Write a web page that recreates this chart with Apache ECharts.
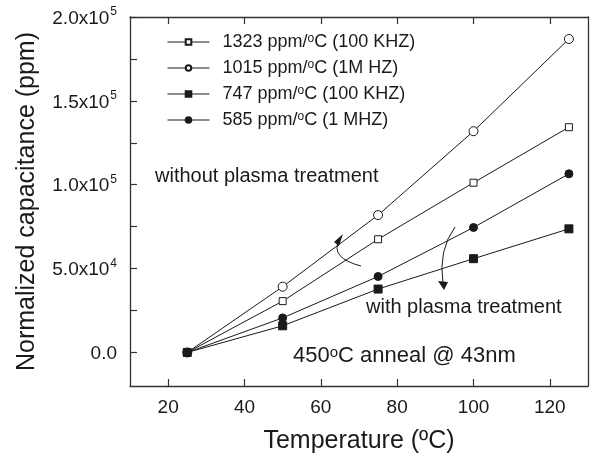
<!DOCTYPE html>
<html><head><meta charset="utf-8">
<script src="https://cdn.jsdelivr.net/npm/echarts@6/dist/echarts.min.js"></script>
<style>html,body{margin:0;padding:0;background:#fff}#c{width:592px;height:459px}</style>
</head><body><div id="c"></div>
<script>
const temps = [25, 50, 75, 100, 125];
const s1323 = [0, 30600, 67500, 101200, 134300];
const s1015 = [0, 39200, 81900, 131900, 186900];
const s747 = [0, 15900, 37800, 55900, 73700];
const s585 = [0, 20600, 45300, 74500, 106500];
const seriesNames = ['1323 ppm/°C (100 KHZ)', '1015 ppm/°C (1M HZ)', '747 ppm/°C (100 KHZ)', '585 ppm/°C (1 MHZ)'];
const xTicks = [20, 40, 60, 80, 100, 120];
const yLabels = [0, 50000, 100000, 150000, 200000];
const yTicks = [0, 25000, 50000, 75000, 100000, 125000, 150000, 175000, 200000];

const FONT = 'Liberation Sans, Arial, sans-serif';
const INK = '#1a1a1a';
const sup = {fontSize: 12, verticalAlign: 'top', lineHeight: 14, fontFamily: FONT, color: INK, padding:[0,0,0,1]};

function pairs(ys){ return temps.map((t,i)=>[t, ys[i]]); }
function yFmt(v){
  if (v === 0) return '{n|0.0}';
  const e = Math.floor(Math.log10(v));
  const m = (v / Math.pow(10, e)).toFixed(1);
  return '{n|' + m + 'x10}{s|' + e + '}';
}
const mk = [
  {name: seriesNames[0], data: s1323, symbol: 'rect', size: 7, fill: '#fff'},
  {name: seriesNames[1], data: s1015, symbol: 'circle', size: 9, fill: '#fff'},
  {name: seriesNames[2], data: s747, symbol: 'rect', size: 8, fill: INK},
  {name: seriesNames[3], data: s585, symbol: 'circle', size: 8, fill: INK}
];
const chart = echarts.init(document.getElementById('c'), null, {renderer: 'canvas'});
const axisLine = {show: true, onZero: false, lineStyle: {color: '#333', width: 1.3}};
chart.setOption({
  animation: false,
  backgroundColor: '#fff',
  textStyle: {fontFamily: FONT},
  grid: {left: 130, right: 4, top: 17, bottom: 69},
  legend: {
    orient: 'vertical', left: 162, top: 28, itemGap: 8, itemWidth: 42, itemHeight: 7,
    data: seriesNames,
    lineStyle: {width: 1},
    formatter: n => n.replace(/^(.*?)°(.*)$/, '{t|$1}{s|o}{t|$2}'),
    textStyle: {fontSize: 18, color: INK, fontFamily: FONT, lineHeight: 18, padding: [0,0,0,8],
      rich: {t: {fontSize: 18, color: INK, fontFamily: FONT, lineHeight: 18}, s: {fontSize: 12, color: INK, fontFamily: FONT, verticalAlign: 'top', lineHeight: 11}}}
  },
  xAxis: [{
    type: 'value', min: 10, max: 130, position: 'bottom',
    name: 'Temperature (ºC)', nameLocation: 'middle', nameGap: 43,
    nameTextStyle: {fontSize: 25, color: INK, fontFamily: FONT},
    axisLine: axisLine,
    axisTick: {show: true, inside: true, length: 7, customValues: xTicks, lineStyle: {color: '#333', width: 1.2}},
    axisLabel: {customValues: xTicks, fontSize: 19, color: INK, fontFamily: FONT, margin: 12},
    splitLine: {show: false}
  }, {
    type: 'value', min: 10, max: 130, position: 'top',
    axisLine: axisLine,
    axisTick: {show: true, inside: true, length: 7, customValues: xTicks, lineStyle: {color: '#333', width: 1.2}},
    axisLabel: {show: false}, splitLine: {show: false}
  }],
  yAxis: [{
    type: 'value', min: -20000, max: 200000, position: 'left',
    name: 'Normalized capacitance (ppm)', nameLocation: 'middle', nameGap: 90,
    nameTextStyle: {fontSize: 25, color: INK, fontFamily: FONT},
    axisLine: axisLine,
    axisTick: {show: true, inside: true, length: 7, customValues: yTicks, lineStyle: {color: '#333', width: 1.2}},
    axisLabel: {customValues: yLabels, formatter: yFmt, margin: 13,
      rich: {n: {fontSize: 19, color: INK, fontFamily: FONT, lineHeight: 22, padding: [3,0,0,0]}, s: sup}},
    splitLine: {show: false}
  }, {
    type: 'value', min: -20000, max: 200000, position: 'right',
    axisLine: axisLine, axisTick: {show: false}, axisLabel: {show: false}, splitLine: {show: false}
  }],
  series: mk.map(m => ({
    name: m.name, type: 'line', data: pairs(m.data),
    symbol: m.symbol, symbolSize: m.size, showSymbol: true,
    lineStyle: {color: INK, width: 1},
    itemStyle: {color: m.fill, borderColor: INK, borderWidth: 1},
    z: 3
  })),
  graphic: [
    {type: 'text', left: 155, top: 166, style: {text: 'without plasma treatment', font: '20px ' + FONT, fill: INK}},
    {type: 'text', left: 366, top: 297, style: {text: 'with plasma treatment', font: '20px ' + FONT, fill: INK}},
    {type: 'text', left: 293, top: 345, style: {text: '450{s|o}C anneal @ 43nm', rich: {s: {fontSize: 15, fill: INK, fontFamily: FONT, verticalAlign: 'top', lineHeight: 13}}, font: '22px ' + FONT, fill: INK}},
    {type: 'bezierCurve', shape: {x1: 361, y1: 266, cpx1: 330, cpy1: 258, x2: 339, y2: 240}, style: {stroke: INK, lineWidth: 1, fill: null}},
    {type: 'polygon', shape: {points: [[334, 242], [343, 234], [339, 246]]}, style: {fill: INK}},
    {type: 'bezierCurve', shape: {x1: 455, y1: 227, cpx1: 438, cpy1: 250, x2: 443, y2: 284}, style: {stroke: INK, lineWidth: 1, fill: null}},
    {type: 'polygon', shape: {points: [[438, 281], [448, 282], [444, 290]]}, style: {fill: INK}}
  ]
});
</script></body></html>
